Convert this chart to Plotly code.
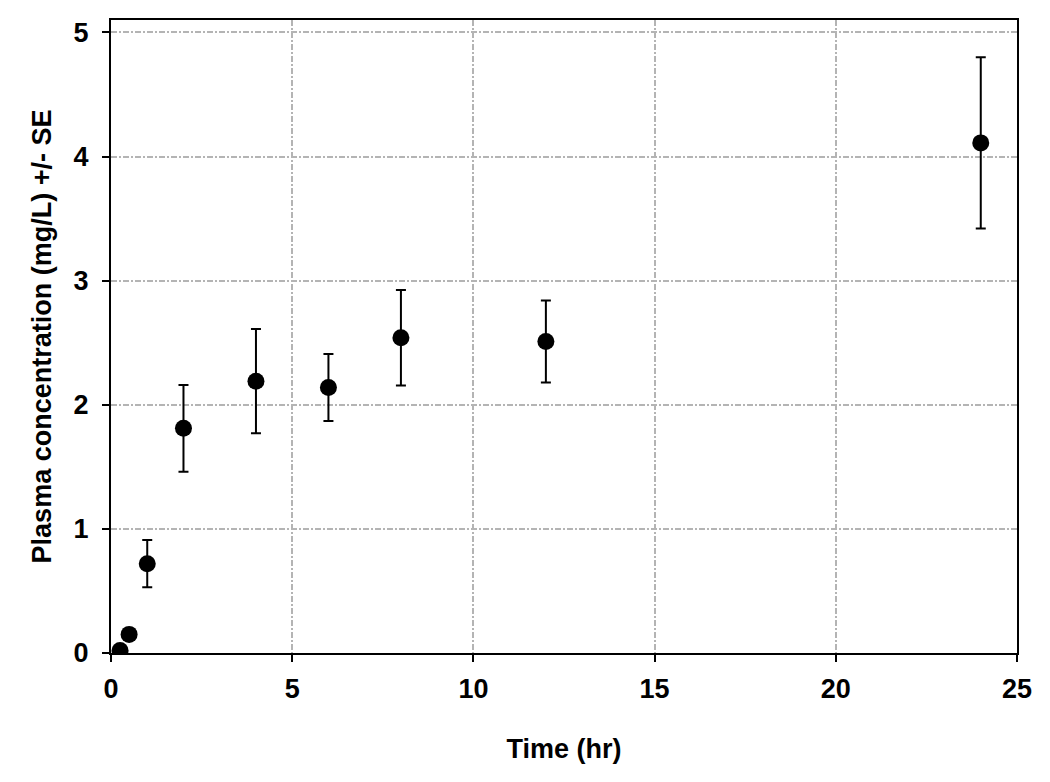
import plotly.graph_objects as go

time_hr = [0.25, 0.5, 1, 2, 4, 6, 8, 12, 24]
conc_mg_l = [0.02, 0.15, 0.72, 1.81, 2.19, 2.14, 2.54, 2.51, 4.11]
conc_se = [0.0, 0.0, 0.19, 0.35, 0.42, 0.27, 0.385, 0.33, 0.69]

x_ticks = [0, 5, 10, 15, 20, 25]
y_ticks = [0, 1, 2, 3, 4, 5]

font_family = "Liberation Sans, Arial, sans-serif"

fig = go.Figure(
    go.Scatter(
        x=time_hr,
        y=conc_mg_l,
        mode="markers",
        marker=dict(color="black", size=17),
        error_y=dict(
            type="data",
            array=conc_se,
            visible=True,
            color="black",
            thickness=2,
            width=5,
        ),
        showlegend=False,
    )
)

grid = dict(
    showgrid=True,
    gridcolor="#b4b4b4",
    gridwidth=2,
    griddash="6px,2px,2px,2px",
    showline=True,
    linecolor="black",
    linewidth=2,
    mirror=True,
    ticks="outside",
    ticklen=7,
    tickwidth=2,
    tickcolor="black",
    zeroline=False,
    tickfont=dict(family=font_family, size=27, color="black", weight="bold"),
)

# page body has an 8px margin, so the figure is a bit smaller than the window
fig.update_layout(
    width=1034,
    height=766,
    margin=dict(l=103, r=24, t=10, b=121),
    paper_bgcolor="white",
    plot_bgcolor="white",
    font=dict(family=font_family, color="black"),
    xaxis=dict(
        grid,
        range=[0, 25],
        tickvals=x_ticks,
        ticklabelstandoff=4,
        title=dict(
            text="<b>Time (hr)</b>",
            font=dict(family=font_family, size=27, color="black"),
            standoff=36,
        ),
    ),
    yaxis=dict(
        grid,
        range=[0, 5.1],
        tickvals=y_ticks,
        ticklabelstandoff=8,
        title=dict(
            text="<b>Plasma concentration (mg/L) +/- SE</b>",
            font=dict(family=font_family, size=27, color="black"),
            standoff=14,
        ),
    ),
)

fig.write_html("out.html")
